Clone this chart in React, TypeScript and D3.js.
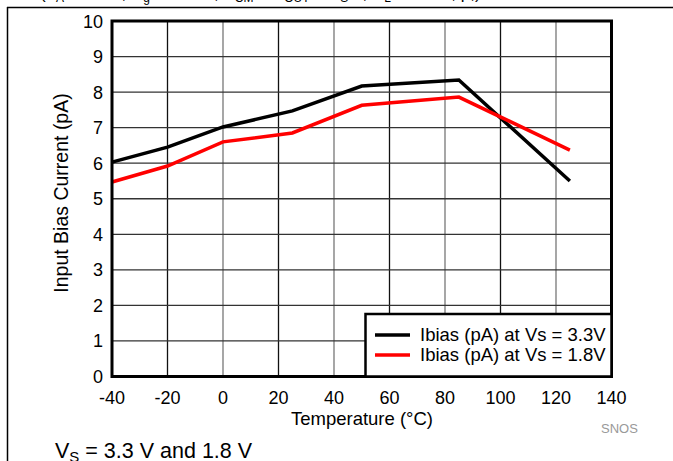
import React from "react";
import * as d3 from "d3";

// Temperature sweep (°C) and input bias current (pA) per supply voltage
const temps = [-40, -20, 0, 25, 50, 85, 125];
const ibias33 = [6.03, 6.45, 7.02, 7.47, 8.17, 8.34, 5.5];
const ibias18 = [5.47, 5.92, 6.6, 6.85, 7.63, 7.86, 6.37];
const xTicks = [-40, -20, 0, 20, 40, 60, 80, 100, 120, 140];
const yTicks = [0, 1, 2, 3, 4, 5, 6, 7, 8, 9, 10];
const seriesNames = ["Ibias (pA) at Vs = 3.3V", "Ibias (pA) at Vs = 1.8V"];
const seriesColors = ["#000000", "#ff0000"];

const W = 673;
const H = 461;
const FONT = "Liberation Sans, Arial, sans-serif";

export default function App() {
  const left = 112;
  const right = 611.5;
  const top = 21;
  const bottom = 376.5;

  const x = d3.scaleLinear().domain([-40, 140]).range([left, right]);
  const y = d3.scaleLinear().domain([0, 10]).range([bottom, top]);

  const line = d3
    .line<[number, number]>()
    .x((d) => x(d[0]))
    .y((d) => y(d[1]));

  const series = [ibias33, ibias18].map((vals) =>
    temps.map((t, i) => [t, vals[i]] as [number, number])
  );

  const legX = 365.5;
  const legY = 314;

  return (
    <svg
      width={W}
      height={H}
      style={{ position: "absolute", left: 0, top: 0, background: "#fff" }}
      fontFamily={FONT}
    >
      {/* page frame */}
      <line x1={7} y1={7.5} x2={W} y2={7.5} stroke="#000" strokeWidth={1.5} />
      <line x1={7.5} y1={7} x2={7.5} y2={H} stroke="#000" strokeWidth={1.5} />

      {/* conditions line, mostly above the page edge */}
      <text x={40} y={-1} fontSize={17} fill="#000">
        (T<tspan fontSize={12} dy={3}>A</tspan>
        <tspan dy={-3}> = 25°C, R</tspan>
        <tspan fontSize={12} dy={3}>g</tspan>
        <tspan dy={-3}> = 10 kΩ, V</tspan>
        <tspan fontSize={12} dy={3}>CM</tspan>
        <tspan dy={-3}> = V</tspan>
        <tspan fontSize={12} dy={3}>OUT</tspan>
        <tspan dy={-3}> = V</tspan>
        <tspan fontSize={12} dy={3}>S</tspan>
        <tspan dy={-3}>/2, R</tspan>
        <tspan fontSize={12} dy={3}>L</tspan>
        <tspan dy={-3}> &gt; 1 MΩ, p,)</tspan>
      </text>

      {/* grid */}
      {xTicks.slice(1, -1).map((t, i) => (
        <line
          key={"gx" + t}
          x1={x(t)}
          x2={x(t)}
          y1={top}
          y2={bottom}
          stroke={i % 2 === 0 ? "#111" : "#777"}
          strokeWidth={1.3}
        />
      ))}
      {yTicks.slice(1, -1).map((v) => (
        <line
          key={"gy" + v}
          x1={left}
          x2={right}
          y1={y(v)}
          y2={y(v)}
          stroke="#333"
          strokeWidth={1.3}
        />
      ))}

      {/* data */}
      {series.map((s, i) => (
        <path
          key={"s" + i}
          d={line(s) ?? ""}
          fill="none"
          stroke={seriesColors[i]}
          strokeWidth={3.5}
          strokeLinejoin="miter"
        />
      ))}

      {/* plot border */}
      <rect
        x={left}
        y={top}
        width={right - left}
        height={bottom - top}
        fill="none"
        stroke="#000"
        strokeWidth={3}
      />

      {/* tick labels */}
      {yTicks.map((v) => (
        <text
          key={"yt" + v}
          x={103}
          y={y(v) + 6.5}
          fontSize={18}
          textAnchor="end"
          fill="#000"
        >
          {v}
        </text>
      ))}
      {xTicks.map((t) => (
        <text
          key={"xt" + t}
          x={x(t)}
          y={404}
          fontSize={18}
          textAnchor="middle"
          fill="#000"
        >
          {t}
        </text>
      ))}

      {/* axis titles */}
      <text
        transform={`translate(68,193) rotate(-90)`}
        fontSize={19.5}
        textAnchor="middle"
        fill="#000"
      >
        Input Bias Current (pA)
      </text>
      <text x={362} y={425} fontSize={18.5} textAnchor="middle" fill="#000">
        Temperature (°C)
      </text>

      {/* legend */}
      <rect
        x={legX}
        y={legY}
        width={right - legX}
        height={bottom - legY}
        fill="#fff"
        stroke="#000"
        strokeWidth={2.5}
      />
      {seriesNames.map((name, i) => (
        <g key={"lg" + i}>
          <line
            x1={375}
            x2={410}
            y1={335 + i * 20}
            y2={335 + i * 20}
            stroke={seriesColors[i]}
            strokeWidth={3.5}
          />
          <text x={420} y={341 + i * 20} fontSize={18.5} fill="#000">
            {name}
          </text>
        </g>
      ))}

      {/* footer */}
      <text x={601} y={433} fontSize={13} fill="#999">
        SNOS
      </text>
      <text x={55} y={458} fontSize={21.5} fill="#000">
        V<tspan fontSize={15} dy={4}>S</tspan>
        <tspan dy={-4}> = 3.3 V and 1.8 V</tspan>
      </text>
    </svg>
  );
}
